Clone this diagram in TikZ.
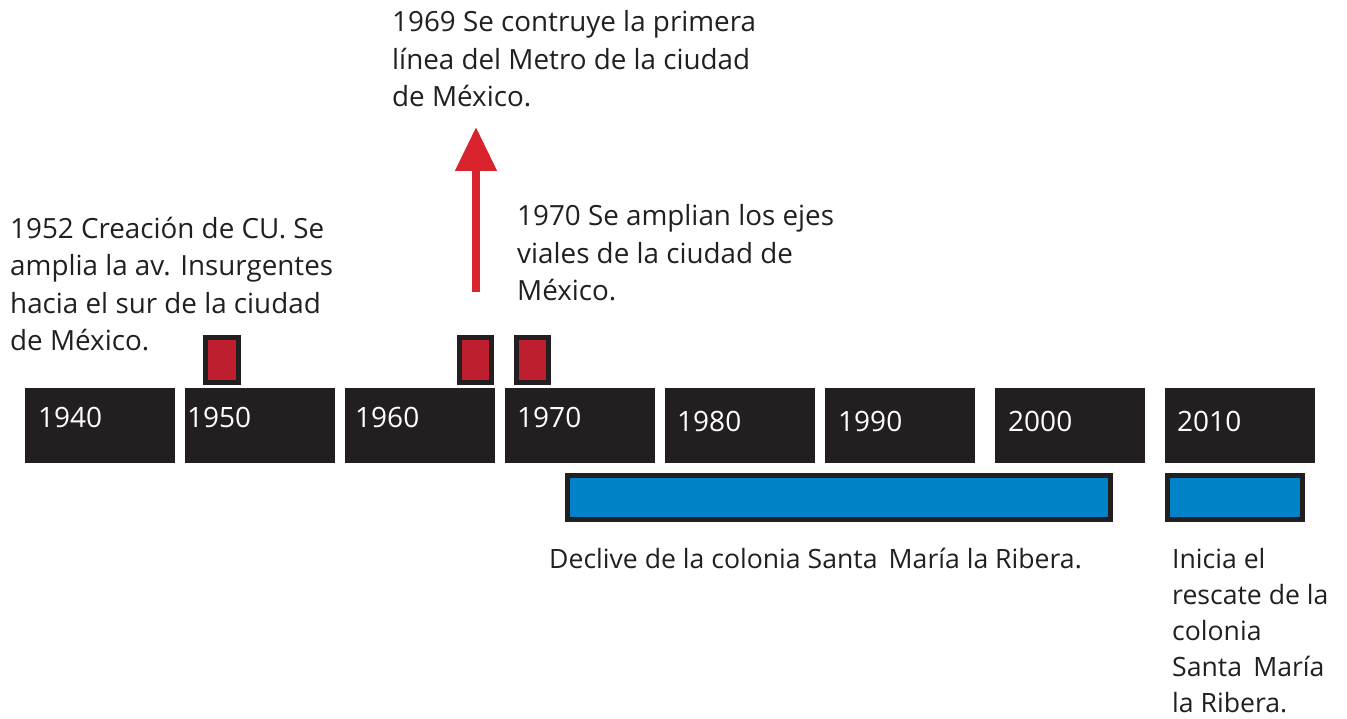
\documentclass[tikz,border=0pt]{standalone}
\usepackage{fontspec}
\setmainfont{Open Sans}
\usetikzlibrary{arrows.meta}
\definecolor{boxblack}{HTML}{231F20}
\definecolor{markred}{HTML}{BE1E2D}
\definecolor{arrowred}{HTML}{D9232D}
\definecolor{barblue}{HTML}{0082C8}
\begin{document}
\begin{tikzpicture}[x=1pt,y=-1pt,
  yearbox/.style={fill=boxblack,draw=none,inner sep=0pt,outer sep=0pt,minimum width=150pt,minimum height=75pt,anchor=north west},
  yeartext/.style={text=white,font=\fontsize{28}{36}\selectfont,anchor=base west,inner sep=0pt},
  marker/.style={fill=markred,draw=boxblack,line width=5pt,inner sep=0pt,minimum height=45pt},
  bar/.style={fill=barblue,draw=boxblack,line width=5pt,inner sep=0pt,minimum height=44pt},
  note/.style={text=boxblack,font=\fontsize{27.8}{37.5}\selectfont,align=left,anchor=base west,inner sep=0pt}
]
\useasboundingbox (0,0) rectangle (1347,719);
% year boxes
\node[yearbox] (b1940) at (25,388) {};
\node[yearbox] (b1950) at (185,388) {};
\node[yearbox] (b1960) at (345,388) {};
\node[yearbox] (b1970) at (505,388) {};
\node[yearbox] (b1980) at (665,388) {};
\node[yearbox] (b1990) at (825,388) {};
\node[yearbox] (b2000) at (995,388) {};
\node[yearbox] (b2010) at (1165,388) {};
\node[yeartext] (t1940) at (38,427) {1940};
\node[yeartext] (t1950) at (187,427) {1950};
\node[yeartext] (t1960) at (355,427) {1960};
\node[yeartext] (t1970) at (517,427) {1970};
\node[yeartext] (t1980) at (677,431) {1980};
\node[yeartext] (t1990) at (838,431) {1990};
\node[yeartext] (t2000) at (1008,431) {2000};
\node[yeartext] (t2010) at (1177,431) {2010};
% markers
\node[marker,minimum width=33pt] (m1952) at (222,360) {};
\node[marker,minimum width=32pt] (m1969) at (475.5,360) {};
\node[marker,minimum width=32pt] (m1970) at (532.5,360) {};
% bars
\node[bar,minimum width=543pt] (decl) at (839,497.5) {};
\node[bar,minimum width=135pt] (resc) at (1235,497.5) {};
% texts (anchored at the baseline of their last line)
\node[note] (n1952) at (10,351) {1952 Creación de CU. Se\\amplia la av. Insurgentes\\hacia el sur de la ciudad\\de México.};
\node[note] (n1969) at (392,107) {1969 Se contruye la primera\\línea del Metro de la ciudad\\de México.};
\node[note] (n1970) at (517,301) {1970 Se amplian los ejes\\viales de la ciudad de\\México.};
\node[note,font=\fontsize{26.6}{37.5}\selectfont] (ndecl) at (549,568) {Declive de la colonia Santa\hspace{0.42em}María la Ribera.};
\node[note,font=\fontsize{26.6}{36}\selectfont] (nresc) at (1172,712) {Inicia el\\rescate de la\\colonia\\Santa\hspace{0.42em}María\\la Ribera.};
% arrow
\coordinate (arrowstart) at (476,292);
\coordinate (arrowtip) at (476,127);
\draw[arrowred,line width=8pt,-{Triangle[width=40pt,length=44pt]}] (arrowstart) -- (arrowtip);
\end{tikzpicture}
\end{document}
